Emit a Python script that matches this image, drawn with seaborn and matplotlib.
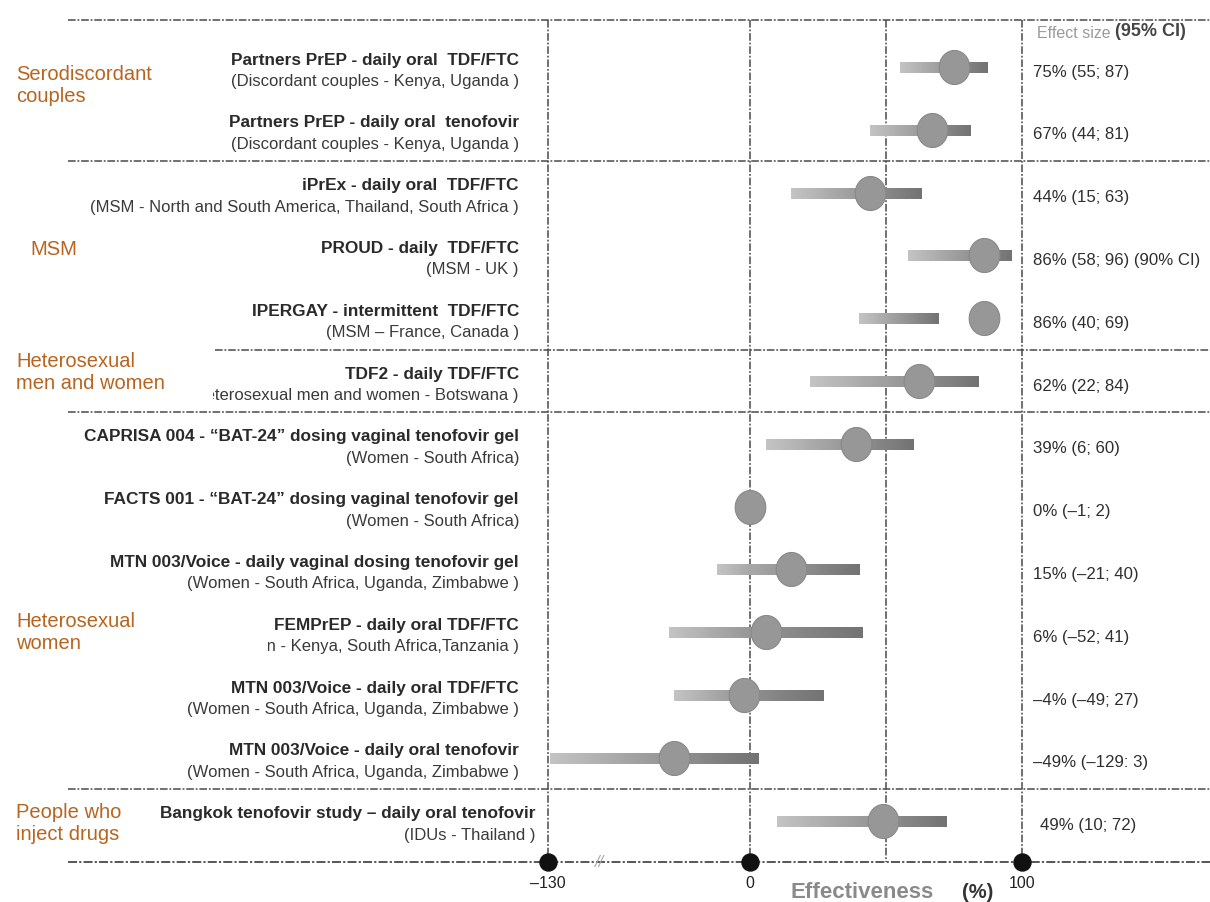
import numpy as np
import pandas as pd
import matplotlib
matplotlib.use("Agg")
import matplotlib.pyplot as plt
from matplotlib import font_manager
from matplotlib.collections import LineCollection
from matplotlib.colors import to_rgb
from matplotlib.path import Path
from matplotlib.transforms import Bbox, TransformedBbox, blended_transform_factory
import seaborn as sns

# ---- data -------------------------------------------------------------
studies = [
    "Partners PrEP - daily oral  TDF/FTC",
    "Partners PrEP - daily oral  tenofovir",
    "iPrEx - daily oral  TDF/FTC",
    "PROUD - daily  TDF/FTC",
    "IPERGAY - intermittent  TDF/FTC",
    "TDF2 - daily TDF/FTC",
    "CAPRISA 004 - \u201cBAT-24\u201d dosing vaginal tenofovir gel",
    "FACTS 001 - \u201cBAT-24\u201d dosing vaginal tenofovir gel",
    "MTN 003/Voice - daily vaginal dosing tenofovir gel",
    "FEMPrEP - daily oral TDF/FTC",
    "MTN 003/Voice - daily oral TDF/FTC",
    "MTN 003/Voice - daily oral tenofovir",
    "Bangkok tenofovir study \u2013 daily oral tenofovir",
]
populations = [
    "(Discordant couples - Kenya, Uganda )",
    "(Discordant couples - Kenya, Uganda )",
    "(MSM - North and South America, Thailand, South Africa )",
    "(MSM - UK )",
    "(MSM \u2013 France, Canada )",
    "(Heterosexual men and women - Botswana )",
    "(Women - South Africa)",
    "(Women - South Africa)",
    "(Women - South Africa, Uganda, Zimbabwe )",
    "(Women - Kenya, South Africa,Tanzania )",
    "(Women - South Africa, Uganda, Zimbabwe )",
    "(Women - South Africa, Uganda, Zimbabwe )",
    "(IDUs - Thailand )",
]
effect = [75, 67, 44, 86, 86, 62, 39, 0, 15, 6, -4, -49, 49]
ci_low = [55, 44, 15, 58, 40, 22, 6, -1, -21, -52, -49, -129, 10]
ci_high = [87, 81, 63, 96, 69, 84, 60, 2, 40, 41, 27, 3, 72]
effect_labels = [
    "75% (55; 87)", "67% (44; 81)", "44% (15; 63)", "86% (58; 96) (90% CI)",
    "86% (40; 69)", "62% (22; 84)", "39% (6; 60)", "0% (\u20131; 2)",
    "15% (\u201321; 40)", "6% (\u201352; 41)", "\u20134% (\u201349; 27)",
    "\u201349% (\u2013129: 3)", "49% (10; 72)",
]
groups = ["Serodiscordant\ncouples", "MSM", "Heterosexual\nmen and women",
          "Heterosexual\nwomen", "People who\ninject drugs"]
group_rows = [0.29, 2.9, 4.87, 9.0, 12.04]
group_x_px = [16, 30, 16, 16, 16]
separators = [-0.75, 1.5, 4.5, 5.5, 11.5]
grid_ticks = [-130, 0, 50, 100]
axis_ticks = [-130, 0, 100]
axis_tick_labels = ["\u2013130", "0", "100"]

# ---- style ------------------------------------------------------------
sns.set_theme(style="white")
names = {f.name for f in font_manager.fontManager.ttflist}
narrow = "Liberation Sans Narrow" if "Liberation Sans Narrow" in names else "Liberation Sans"
plt.rcParams["font.family"] = [narrow, "DejaVu Sans"]

W, H, DPI = 1210, 902, 100
fig = plt.figure(figsize=(W / DPI, H / DPI), dpi=DPI)
ax = fig.add_axes([0, 0, 1, 1])

# broken axis: negative side compressed
POS_PX = 2.72                 # pixels per unit, right of zero
NEG_PX = 202.0 / 130.0        # pixels per unit, left of zero
K = NEG_PX / POS_PX
ZERO_PX = 750


def fwd(x):
    x = np.asarray(x, dtype=float)
    return np.where(x < 0, x * K, x)


def inv(x):
    x = np.asarray(x, dtype=float)
    return np.where(x < 0, x / K, x)


ax.set_xscale("function", functions=(fwd, inv))
ax.set_xlim(-(ZERO_PX / POS_PX) / K, (W - ZERO_PX) / POS_PX)
ROW0_PX, ROW_PX = 67.0, 62.8
ax.set_ylim((H - ROW0_PX) / ROW_PX, -ROW0_PX / ROW_PX)
ax.axis("off")

xfrac = lambda px: px / W
bt = blended_transform_factory(ax.transAxes, ax.transData)

LINE_C = "#4a4a4a"
DASH = (0, (5, 1.2, 1.2, 1.2))
AXIS_Y = (862 - ROW0_PX) / ROW_PX

# separators and grid
for s in separators:
    x0 = 215 if s == 4.5 else 68
    ax.plot([xfrac(x0), 1], [s, s], transform=bt, color=LINE_C, lw=1.1,
            linestyle=DASH, zorder=1)
ax.plot([xfrac(68), 1], [AXIS_Y, AXIS_Y], transform=bt, color=LINE_C, lw=1.3,
        linestyle=DASH, zorder=1)
for g in grid_ticks:
    ax.plot([g, g], [separators[0], AXIS_Y], color=LINE_C, lw=1.1,
            linestyle=DASH, zorder=1)

# confidence interval bars with a light-to-dark gradient
c_lo, c_hi = np.array(to_rgb("#c3c3c3")), np.array(to_rgb("#737373"))
rows = np.arange(len(effect))
for i, (lo, hi) in enumerate(zip(ci_low, ci_high)):
    xs = np.linspace(lo, hi, 80)
    segs = [[(xs[j], i), (xs[j + 1], i)] for j in range(len(xs) - 1)]
    t = np.linspace(0, 1, len(segs))[:, None]
    cols = c_lo * (1 - t) + c_hi * t
    lc = LineCollection(segs, colors=cols, linewidths=7.8, capstyle="butt",
                        antialiased=False, zorder=3)
    ax.add_collection(lc)

# point estimates (slightly tall ellipses)
theta = np.linspace(0, 2 * np.pi, 60)
ellipse = Path(np.column_stack([0.9 * np.cos(theta), np.sin(theta)]))
df = pd.DataFrame({"effect": effect, "row": rows})
sns.scatterplot(data=df, x="effect", y="row", ax=ax, marker=ellipse, s=600,
                color="#979797", edgecolor="#888888", linewidth=0.8, zorder=4,
                legend=False)

# study labels
for i, (st, pop) in enumerate(zip(studies, populations)):
    right_px = 536 if i == len(studies) - 1 else 519
    ax.text(xfrac(right_px), i - 0.11, st, transform=bt, ha="right",
            va="center", fontsize=12.4, fontweight="bold", color="#2a2a2a")
    tp = ax.text(xfrac(right_px), i + 0.23, pop, transform=bt, ha="right",
                 va="center", fontsize=12, color="#3a3a3a")
    clip_left = {5: 213, 9: 268}.get(i)
    if clip_left is not None:
        tp.set_clip_box(TransformedBbox(Bbox([[clip_left / W, 0], [1, 1]]),
                                        fig.transFigure))
        tp.set_clip_on(True)

# effect size column
for i, lab in enumerate(effect_labels):
    x = 1040 if i == len(effect_labels) - 1 else 1033
    ax.text(xfrac(x), i + 0.08, lab, transform=bt, ha="left", va="center",
            fontsize=12.1, color="#2f2f2f")
hdr = ax.text(xfrac(1037), -0.54, "Effect size ", transform=bt, ha="left",
              va="center", fontsize=11.5, color="#9a9a9a")
fig.canvas.draw()
bb = hdr.get_window_extent()
ax.text(bb.x1 / W, -0.56, "(95% CI)", transform=bt, ha="left", va="center",
        fontsize=13, fontweight="bold", color="#454545")

# group labels
for g, r, xp in zip(groups, group_rows, group_x_px):
    ax.text(xfrac(xp), r, g, transform=bt, ha="left", va="center",
            fontsize=14.5, color="#b8641f", linespacing=1.2)

# x axis markers and labels
ax.scatter(axis_ticks, [AXIS_Y] * len(axis_ticks), s=150, color="#111111",
           zorder=5, clip_on=False)
for tx, tl in zip(axis_ticks, axis_tick_labels):
    ax.text(tx, AXIS_Y + 0.35, tl, ha="center", va="center", fontsize=11.5,
            color="#222222")
ax.text(xfrac(600), AXIS_Y, "//", transform=bt, ha="center", va="center",
        fontsize=12, color="#aaaaaa", style="italic")
ax.text(xfrac(790), AXIS_Y + 0.48, "Effectiveness", transform=bt, ha="left",
        va="center", fontsize=16, fontweight="bold", color="#8a8a8a")
ax.text(xfrac(962), AXIS_Y + 0.48, "(%)", transform=bt, ha="left",
        va="center", fontsize=14.5, fontweight="bold", color="#333333")

fig.savefig("out.png", dpi=DPI)
